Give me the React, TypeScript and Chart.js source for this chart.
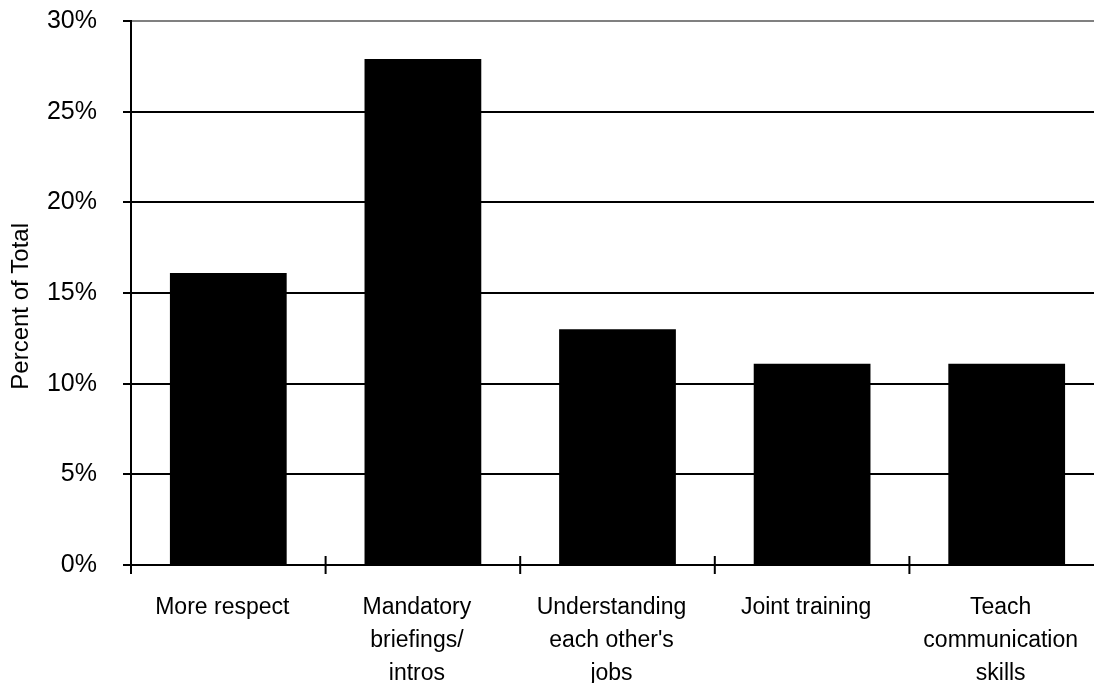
import React, { useEffect, useRef } from "react";
import { Chart, registerables } from "chart.js";

Chart.register(...registerables);

const categories: string[][] = [
  ["More respect"],
  ["Mandatory", "briefings/", "intros"],
  ["Understanding", "each other's", "jobs"],
  ["Joint training"],
  ["Teach", "communication", "skills"],
];
const percentValues: number[] = [16.1, 27.9, 13.0, 11.1, 11.1];
const yTickValues: number[] = [0, 5, 10, 15, 20, 25, 30];
const yTitle = "Percent of Total";

const FONT = "'Liberation Sans', Arial, sans-serif";

const crossTicksPlugin = {
  id: "crossTicks",
  afterDraw(chart: any) {
    const x = chart.scales.x;
    const ctx = chart.ctx;
    const n = chart.data.labels.length;
    const y = chart.chartArea.bottom;
    ctx.save();
    ctx.strokeStyle = "#000";
    ctx.lineWidth = 2;
    for (let i = 0; i <= n; i++) {
      const px = x.getPixelForValue(i - 0.5);
      ctx.beginPath();
      ctx.moveTo(px, y - 9);
      ctx.lineTo(px, y + 9);
      ctx.stroke();
    }
    ctx.restore();
  },
};

export default function App() {
  const ref = useRef<HTMLCanvasElement | null>(null);
  useEffect(() => {
    if (!ref.current) return;
    const chart = new Chart(ref.current, {
      type: "bar",
      data: {
        labels: categories as any,
        datasets: [
          {
            data: percentValues,
            backgroundColor: "#000",
            borderWidth: 0,
            categoryPercentage: 1,
            barPercentage: 0.6,
          },
        ],
      },
      options: {
        animation: false,
        responsive: true,
        maintainAspectRatio: false,
        layout: { padding: { left: 0, top: 21, right: 16, bottom: 0 } },
        plugins: { legend: { display: false }, tooltip: { enabled: false } },
        scales: {
          x: {
            offset: true,
            grid: { display: false },
            border: { display: true, color: "#000", width: 2 },
            ticks: {
              autoSkip: false,
              maxRotation: 0,
              minRotation: 0,
              padding: 18,
              labelOffset: -6,
              color: "#000",
              font: { family: FONT, size: 23, lineHeight: "33px" as any },
            },
            afterFit: (s: any) => {
              s.height = 155;
            },
          },
          y: {
            min: 0,
            max: 30,
            afterBuildTicks: (s: any) => {
              s.ticks = yTickValues.map((v) => ({ value: v }));
            },
            grid: {
              display: true,
              drawOnChartArea: true,
              drawTicks: true,
              tickLength: 8,
              lineWidth: 2,
              color: (c: any) => (c.tick && c.tick.value === 30 ? "#808080" : "#000"),
              tickColor: "#000",
            },
            border: { display: true, color: "#000", width: 2 },
            ticks: {
              padding: 26,
              color: "#000",
              font: { family: FONT, size: 25 },
              callback: (v: any) => v + "%",
            },
            title: {
              display: true,
              text: yTitle + "    ",
              color: "#000",
              font: { family: FONT, size: 24 },
              padding: { top: 7, bottom: 0 },
            },
            afterFit: (s: any) => {
              s.width = 131;
              s.paddingTop = 0;
              s.paddingBottom = 0;
            },
          },
        },
      },
      plugins: [crossTicksPlugin],
    });
    return () => chart.destroy();
  }, []);

  return (
    <div
      style={{
        position: "absolute",
        left: 0,
        top: 0,
        width: 1094,
        height: 683,
        overflow: "hidden",
        background: "#fff",
      }}
    >
      <div style={{ position: "relative", width: 1120, height: 720 }}>
        <canvas ref={ref} />
      </div>
    </div>
  );
}
